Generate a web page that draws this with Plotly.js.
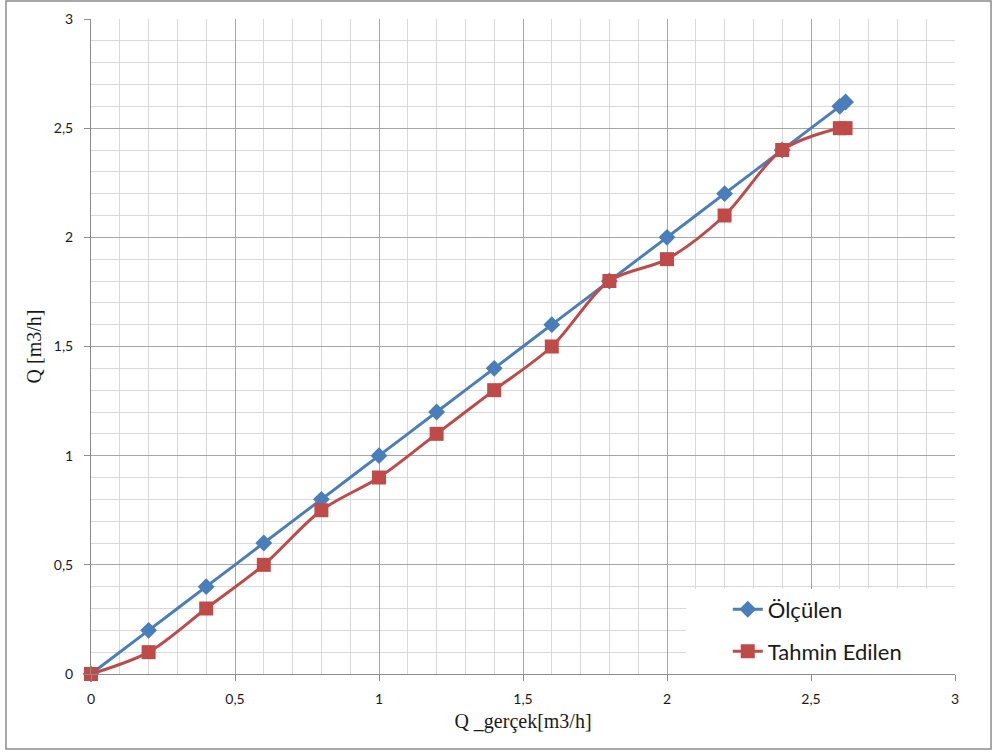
<!DOCTYPE html>
<html>
<head>
<meta charset="utf-8">
<script src="https://cdn.plot.ly/plotly-3.0.1.min.js"></script>
<style>
  html, body { margin: 0; padding: 0; background: #ffffff; }
  #chart { width: 993px; height: 753px; }
</style>
</head>
<body>
<div id="chart"></div>
<script>
// Flow rate: true value on x, measured vs. estimated on y
const qGercek   = [0, 0.2, 0.4, 0.6, 0.8, 1.0, 1.2, 1.4, 1.6, 1.8, 2.0, 2.2, 2.4, 2.6, 2.62];
const olculen   = [0, 0.2, 0.4, 0.6, 0.8, 1.0, 1.2, 1.4, 1.6, 1.8, 2.0, 2.2, 2.4, 2.6, 2.62];
const tahmin    = [0, 0.1, 0.3, 0.5, 0.75, 0.9, 1.1, 1.3, 1.5, 1.8, 1.9, 2.1, 2.4, 2.5, 2.5];
const seriesNames = ['Ölçülen', 'Tahmin Edilen'];
const tickVals = [0, 0.5, 1, 1.5, 2, 2.5, 3];

const blue = '#4A7EBB';
const red = '#BE4B48';

const traces = [
  {
    x: qGercek, y: olculen, name: seriesNames[0],
    mode: 'lines+markers', type: 'scatter', cliponaxis: false,
    line: { color: blue, width: 3, shape: 'spline', smoothing: 0.9 },
    marker: { symbol: 'diamond', size: 13, color: blue },
    legend: 'legend'
  },
  {
    x: qGercek, y: tahmin, name: seriesNames[1],
    mode: 'lines+markers', type: 'scatter', cliponaxis: false,
    line: { color: red, width: 3, shape: 'spline', smoothing: 0.9 },
    marker: { symbol: 'square', size: 14, color: red },
    legend: 'legend2'
  }
];

const axisCommon = {
  range: [0, 3],
  tickvals: tickVals,
  ticks: 'outside',
  ticklen: 6,
  tickcolor: '#8c8c8c',
  tickwidth: 1,
  showline: true,
  linecolor: '#8c8c8c',
  linewidth: 1,
  showgrid: true,
  gridcolor: '#a6a6a6',
  gridwidth: 1,
  zeroline: false,
  minor: { dtick: 0.1, showgrid: true, gridcolor: '#d9d9d9', gridwidth: 1, ticks: '' },
  tickfont: { family: 'Lato, "Open Sans", sans-serif', size: 14, color: '#1a1a1a' },
  fixedrange: true
};

const titleFont = { family: '"Liberation Serif", "Times New Roman", serif', size: 20, color: '#1a1a1a' };

const legendCommon = {
  xanchor: 'left', yanchor: 'middle',
  bgcolor: 'rgba(0,0,0,0)',
  borderwidth: 0,
  font: { family: 'Lato, "Open Sans", sans-serif', size: 22, color: '#1a1a1a' },
  itemwidth: 30
};

const layout = {
  width: 993,
  height: 753,
  separators: ', ',
  margin: { l: 91, r: 38, t: 19, b: 79 },
  paper_bgcolor: '#ffffff',
  plot_bgcolor: '#ffffff',
  showlegend: true,
  xaxis: Object.assign({}, axisCommon, {
    ticklabelstandoff: 6,
    title: { text: 'Q _gerçek[m3/h]', font: titleFont, standoff: 8 }
  }),
  yaxis: Object.assign({}, axisCommon, {
    ticklabelstandoff: 8,
    title: { text: 'Q [m3/h]', font: titleFont, standoff: 6 }
  }),
  legend: Object.assign({}, legendCommon, { x: 0.737, y: 0.0985 }),
  legend2: Object.assign({}, legendCommon, { x: 0.737, y: 0.0344 }),
  shapes: [
    // white legend panel over the grid, lower right corner of the plot
    {
      type: 'rect', xref: 'x', yref: 'y',
      x0: 2.066, x1: 3, y0: 0, y1: 0.389,
      line: { width: 0 }, fillcolor: '#ffffff', layer: 'between'
    },
    // chart frame
    {
      type: 'rect', xref: 'paper', yref: 'paper',
      x0: -0.0984, x1: 1.0417, y0: -0.1145, y1: 1.0275,
      line: { color: '#8c8c8c', width: 1.5 }, fillcolor: 'rgba(0,0,0,0)', layer: 'below'
    }
  ]
};

Plotly.newPlot('chart', traces, layout, { displayModeBar: false, staticPlot: true });
</script>
</body>
</html>
